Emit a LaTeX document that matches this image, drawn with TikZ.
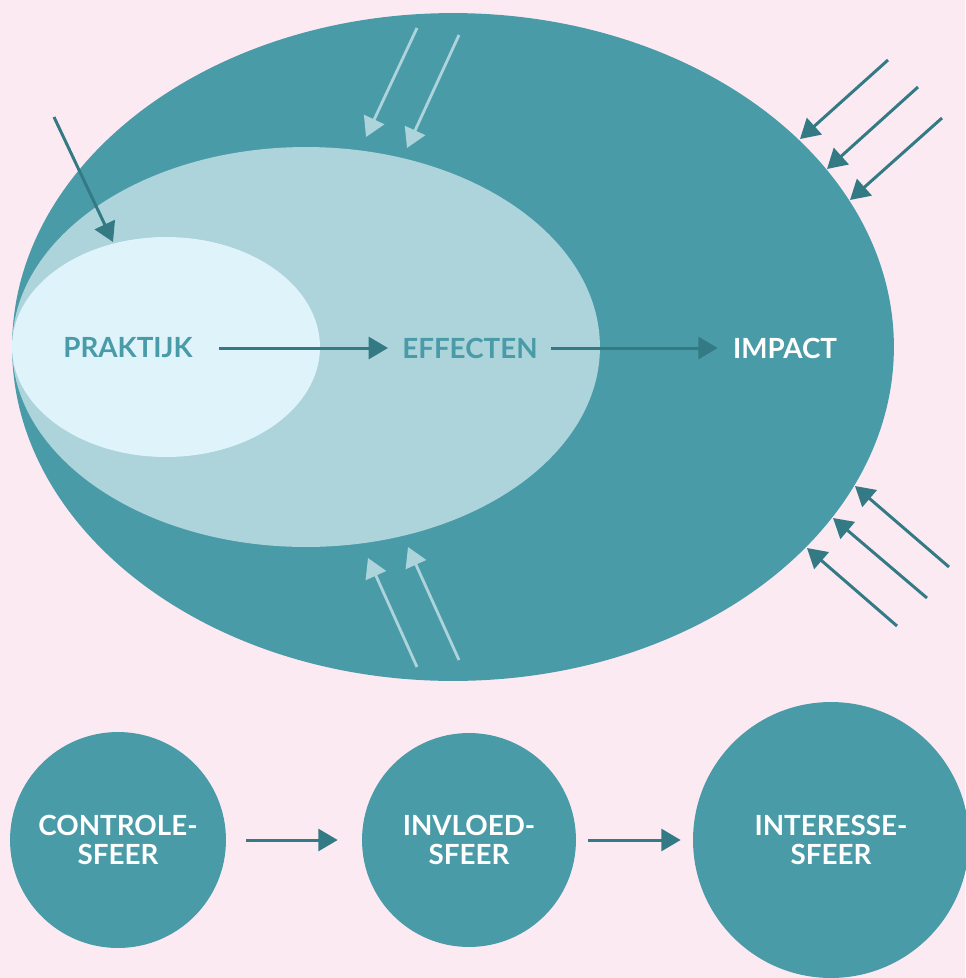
\documentclass[tikz,border=0pt]{standalone}
\usepackage{fontspec}
\setmainfont{Lato}
\usetikzlibrary{arrows.meta, positioning}
\definecolor{sferebg}{RGB}{252, 234, 243}
\definecolor{sferedeep}{RGB}{74, 155, 168}
\definecolor{sferemid}{RGB}{173, 212, 219}
\definecolor{sferelight}{RGB}{223, 243, 251}
\definecolor{sferedark}{RGB}{52, 122, 133}

\begin{document}
\begin{tikzpicture}[
          x=0.02cm, y=-0.02cm,
          sfeertext/.style={font=\fontsize{15.8}{16.6}\selectfont\bfseries, align=center, inner sep=0pt},
          flowarrow/.style={draw=sferedark, line width=1.7pt, -{Triangle[length=11pt, width=12.5pt]}},
          lightarrow/.style={draw=sferemid, line width=1.6pt, -{Triangle[length=11pt, width=12.5pt]}},
          sfeerbol/.style={circle, fill=sferedeep, text=white, inner sep=0pt, sfeertext}
        ]
          % Background
          \fill[sferebg] (0,0) rectangle (965,978);
          \useasboundingbox (0,0) rectangle (965,978);

          % Nested ellipses
          \fill[sferedeep] (453,347) ellipse [x radius=8.82cm, y radius=6.68cm];
          \fill[sferemid] (306,347) ellipse [x radius=5.88cm, y radius=4.0cm];
          \fill[sferelight] (166,347) ellipse [x radius=3.08cm, y radius=2.2cm];

          % Labels in the ellipses
          \node[sfeertext, text=sferedeep] (praktijk) at (128,348) {PRAKTIJK};
          \node[sfeertext, text=sferedeep] (effecten) at (470,348) {EFFECTEN};
          \node[sfeertext, text=white] (impact) at (785,348) {IMPACT};

          \draw[flowarrow, shorten <=0.52cm, shorten >=0.28cm] (praktijk) -- (effecten);
          \draw[flowarrow, shorten <=0.26cm, shorten >=0.3cm] (effecten) -- (impact);

          % Outside influences
          \coordinate (nw-from) at (54,117);
          \coordinate (nw-to) at (113,242);
          \draw[flowarrow] (nw-from) -- (nw-to);

          \coordinate (top1-from) at (417,28);
          \coordinate (top1-to) at (366,137);
          \coordinate (top2-from) at (459,35);
          \coordinate (top2-to) at (407,148);
          \draw[lightarrow] (top1-from) -- (top1-to);
          \draw[lightarrow] (top2-from) -- (top2-to);

          \coordinate (bot1-from) at (417,667);
          \coordinate (bot1-to) at (368,558);
          \coordinate (bot2-from) at (459,660);
          \coordinate (bot2-to) at (408,547);
          \draw[lightarrow] (bot1-from) -- (bot1-to);
          \draw[lightarrow] (bot2-from) -- (bot2-to);

          \coordinate (ne1-from) at (888,60);
          \coordinate (ne1-to) at (800,139);
          \coordinate (ne2-from) at (918,87);
          \coordinate (ne2-to) at (827,169);
          \coordinate (ne3-from) at (942,118);
          \coordinate (ne3-to) at (850,200);
          \draw[flowarrow] (ne1-from) -- (ne1-to);
          \draw[flowarrow] (ne2-from) -- (ne2-to);
          \draw[flowarrow] (ne3-from) -- (ne3-to);

          \coordinate (se1-from) at (949,567);
          \coordinate (se1-to) at (855,486);
          \coordinate (se2-from) at (927,598);
          \coordinate (se2-to) at (833,518);
          \coordinate (se3-from) at (897,626);
          \coordinate (se3-to) at (807,548);
          \draw[flowarrow] (se1-from) -- (se1-to);
          \draw[flowarrow] (se2-from) -- (se2-to);
          \draw[flowarrow] (se3-from) -- (se3-to);

          % Spheres row
          \node[sfeerbol, minimum size=4.32cm] (controle) at (118,840) {CONTROLE-\\SFEER};
          \node[sfeerbol, minimum size=4.28cm] (invloed) at (469,840) {INVLOED-\\SFEER};
          \node[sfeerbol, minimum size=5.52cm] (interesse) at (831,840) {INTERESSE-\\SFEER};

          \draw[flowarrow, shorten <=0.4cm, shorten >=0.48cm] (controle) -- (invloed);
          \draw[flowarrow, shorten <=0.24cm, shorten >=0.24cm] (invloed) -- (interesse);
        \end{tikzpicture}
\end{document}
